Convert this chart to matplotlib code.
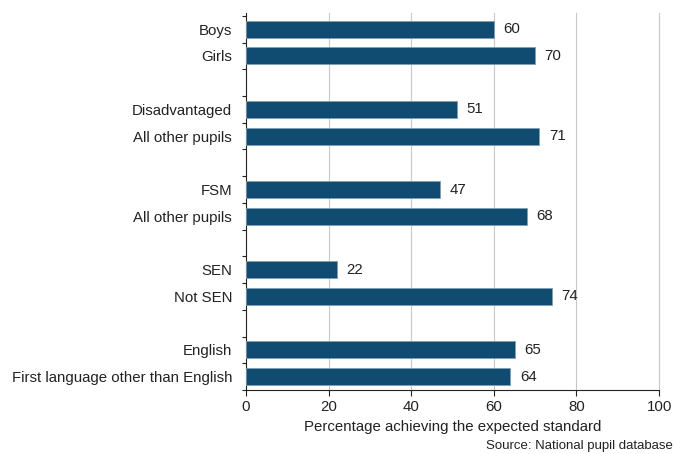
import matplotlib.pyplot as plt
import numpy as np

plt.rcParams['font.family'] = ['Liberation Sans', 'DejaVu Sans']

labels = ["Boys", "Girls", "Disadvantaged", "All other pupils", "FSM", "All other pupils",
          "SEN", "Not SEN", "English", "First language other than English"]
values = [60, 70, 51, 71, 47, 68, 22, 74, 65, 64]
# slot positions: pairs separated by an empty slot
positions = [0, 1, 3, 4, 6, 7, 9, 10, 12, 13]

bar_color = "#104b72"
fs = 10.8

fig = plt.figure(figsize=(6.76, 4.54), dpi=100)
ax = fig.add_axes([0.364, 0.141, 0.611, 0.830])

ax.barh(positions, values, height=0.64, color=bar_color, edgecolor="#7f9fb5", linewidth=0.6, zorder=3)
for p, v in zip(positions, values):
    ax.text(v + 2.3, p, str(v), va="center", ha="left", fontsize=fs, color="#222222")

ax.set_xlim(0, 100)
ax.set_ylim(13.48, -0.6)
ax.set_xticks(np.arange(0, 101, 20))
ax.set_yticks(positions)
ax.set_yticklabels(labels, fontsize=fs, color="#222222")
ax.set_yticks(np.arange(-0.5, 13.6, 1), minor=True)
ax.tick_params(axis="y", which="major", length=0, pad=10)
ax.tick_params(axis="y", which="minor", length=3, width=0.8, color="#222222")
ax.tick_params(axis="x", length=4, width=0.8, labelsize=fs, colors="#222222")
for x in np.arange(20, 101, 20):
    ax.axvline(x, color="#c8c8c8", linewidth=0.8, zorder=0, clip_on=False)

for s in ["top", "right"]:
    ax.spines[s].set_visible(False)
ax.spines["left"].set_color("#222222")
ax.spines["bottom"].set_color("#222222")

ax.set_xlabel("Percentage achieving the expected standard", fontsize=fs, color="#222222", labelpad=4)
fig.text(0.995, 0.005, "Source: National pupil database", ha="right", va="bottom", fontsize=9.5, color="#222222")

fig.savefig("out.png", dpi=100)
